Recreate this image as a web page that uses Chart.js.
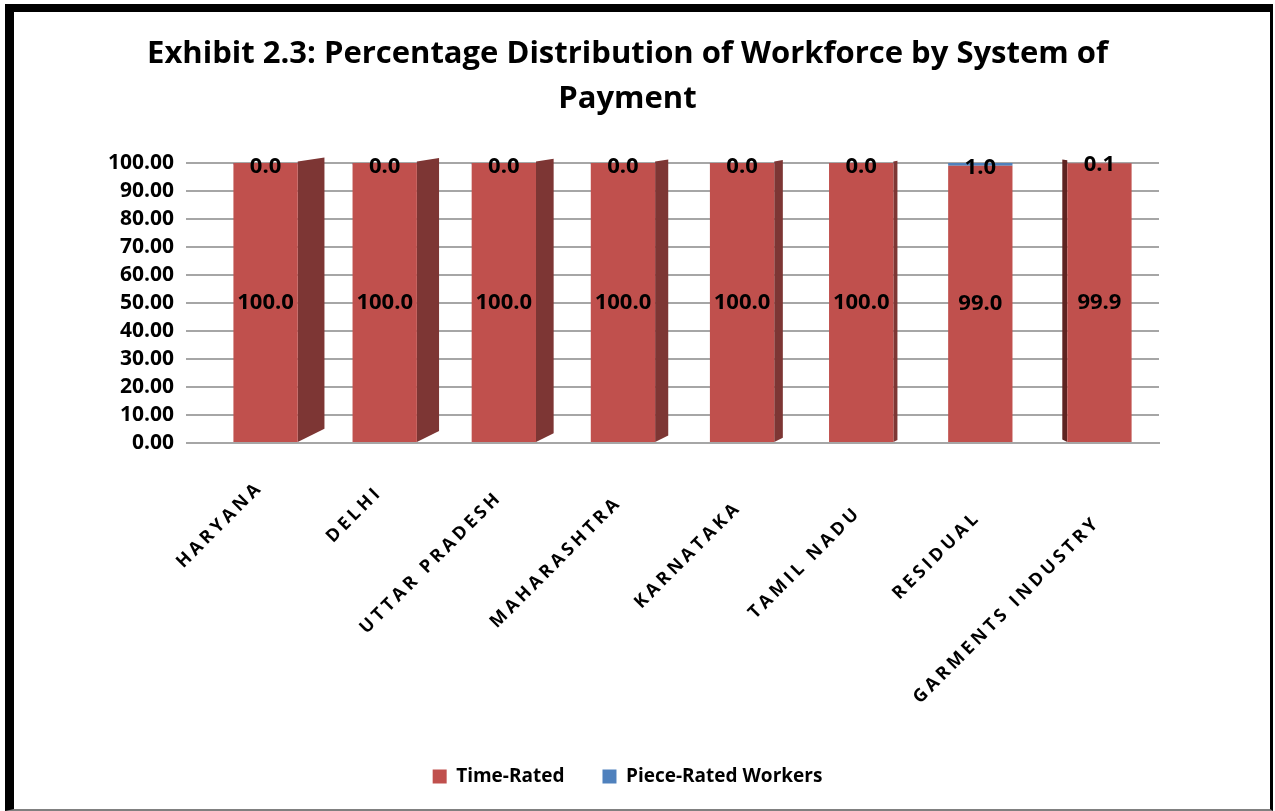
<!DOCTYPE html>
<html>
<head>
<meta charset="utf-8">
<script src="https://cdn.jsdelivr.net/npm/chart.js@4/dist/chart.umd.min.js"></script>
<style>
  html, body { margin: 0; padding: 0; background: #fff; }
  #frame {
    position: absolute; left: 5px; top: 4px; width: 1256px; height: 797px;
    border-left: 9px solid #000; border-top: 8px solid #000;
    border-right: 3px solid #000; border-bottom: 2px solid #808080;
    background: #fff;
  }
  #wrap { position: relative; width: 1256px; height: 797px; }
</style>
</head>
<body>
<div id="frame"><div id="wrap"><canvas id="payChart"></canvas></div></div>
<script>
var regions = ['HARYANA', 'DELHI', 'UTTAR PRADESH', 'MAHARASHTRA', 'KARNATAKA', 'TAMIL NADU', 'RESIDUAL', 'GARMENTS INDUSTRY'];
var timeRated = [100.0, 100.0, 100.0, 100.0, 100.0, 100.0, 99.0, 99.9];
var pieceRated = [0.0, 0.0, 0.0, 0.0, 0.0, 0.0, 1.0, 0.1];
var yTicks = [0, 10, 20, 30, 40, 50, 60, 70, 80, 90, 100];

var FONT = "'Open Sans', 'DejaVu Sans', sans-serif";

// darker side faces to give the columns some depth
var sideFaces = {
  id: 'sideFaces',
  beforeDatasetsDraw: function (chart) {
    var ctx = chart.ctx;
    var area = chart.chartArea;
    var vanish = area.left + (area.right - area.left) * 0.8;
    var bars0 = chart.getDatasetMeta(0).data;
    var bars1 = chart.getDatasetMeta(1).data;
    ctx.save();
    bars0.forEach(function (bar, i) {
      var top = bars1[i] ? Math.min(bars1[i].y, bar.y) : bar.y;
      var half = bar.width / 2;
      var d = (vanish - bar.x) * 0.038;
      if (Math.abs(d) < 1) return;
      var edge = d > 0 ? bar.x + half : bar.x - half;
      ctx.fillStyle = d > 0 ? '#7d3634' : '#5e2321';
      ctx.beginPath();
      ctx.moveTo(edge, top);
      ctx.lineTo(edge + d, top - Math.abs(d) * 0.15);
      ctx.lineTo(edge + d, bar.base - Math.abs(d) * 0.5);
      ctx.lineTo(edge, bar.base);
      ctx.closePath();
      ctx.fill();
    });
    ctx.restore();
  }
};

// value labels: time-rated in the middle of the column, piece-rated at its top
var valueLabels = {
  id: 'valueLabels',
  afterDatasetsDraw: function (chart) {
    var ctx = chart.ctx;
    ctx.save();
    ctx.font = 'bold 22px ' + FONT;
    ctx.fillStyle = '#000';
    ctx.textAlign = 'center';
    ctx.textBaseline = 'middle';
    chart.getDatasetMeta(0).data.forEach(function (bar, i) {
      ctx.fillText(timeRated[i].toFixed(1), bar.x, (bar.y + bar.base) / 2);
    });
    chart.getDatasetMeta(1).data.forEach(function (bar, i) {
      ctx.fillText(pieceRated[i].toFixed(1), bar.x, bar.y + 5);
    });
    ctx.restore();
  }
};

// slanted category names with wide letter spacing
var categoryNames = {
  id: 'categoryNames',
  afterDraw: function (chart) {
    var ctx = chart.ctx;
    var xs = chart.scales.x;
    var gap = 3.6;
    ctx.save();
    ctx.font = 'bold 18px ' + FONT;
    ctx.fillStyle = '#000';
    ctx.textAlign = 'left';
    ctx.textBaseline = 'middle';
    regions.forEach(function (name, i) {
      var x = xs.getPixelForTick(i) - 8 + i * 0.5;
      var y = xs.top + 44 + i * 5;
      var widths = name.split('').map(function (ch) { return ctx.measureText(ch).width; });
      var total = widths.reduce(function (a, b) { return a + b; }, 0) + gap * (widths.length - 1);
      ctx.save();
      ctx.translate(x, y);
      ctx.rotate(-Math.PI / 4);
      var pos = -total;
      name.split('').forEach(function (ch, k) {
        ctx.fillText(ch, pos, 0);
        pos += widths[k] + gap;
      });
      ctx.restore();
    });
    ctx.restore();
  }
};

new Chart('payChart', {
  type: 'bar',
  data: {
    labels: regions,
    datasets: [{
      label: 'Time-Rated',
      data: timeRated,
      backgroundColor: '#c0504d',
      categoryPercentage: 1,
      barPercentage: 0.54
    }, {
      label: 'Piece-Rated Workers',
      data: pieceRated,
      backgroundColor: '#4f81bd',
      categoryPercentage: 1,
      barPercentage: 0.54,
      minBarLength: 3
    }]
  },
  options: {
    responsive: true,
    maintainAspectRatio: false,
    animation: false,
    layout: { padding: { left: 82, right: 111, top: 0, bottom: 13 } },
    plugins: {
      title: {
        display: true,
        text: ['Exhibit 2.3: Percentage Distribution of Workforce by System of', 'Payment'],
        color: '#000',
        font: { family: FONT, size: 31, weight: 'bold', lineHeight: 1.45 },
        padding: { top: 20, bottom: 41 }
      },
      legend: {
        position: 'bottom',
        labels: {
          color: '#000',
          font: { family: FONT, size: 19, weight: 'bold' },
          boxWidth: 14,
          boxHeight: 14,
          padding: 38
        }
      },
      tooltip: { enabled: false }
    },
    scales: {
      x: {
        stacked: true,
        grid: { display: false },
        border: { color: '#a6a6a6', width: 2 },
        ticks: { display: false },
        afterFit: function (axis) { axis.height = 286; }
      },
      y: {
        stacked: true,
        min: 0,
        max: 100,
        afterBuildTicks: function (axis) {
          axis.ticks = yTicks.map(function (v) { return { value: v }; });
        },
        grid: { color: '#a6a6a6', lineWidth: 2, tickLength: 20 },
        border: { display: false },
        ticks: {
          autoSkip: false,
          color: '#000',
          font: { family: FONT, size: 21, weight: 'bold', lineHeight: 1 },
          padding: 12,
          callback: function (v) { return Number(v).toFixed(2); }
        }
      }
    }
  },
  plugins: [sideFaces, valueLabels, categoryNames]
});
</script>
</body>
</html>
